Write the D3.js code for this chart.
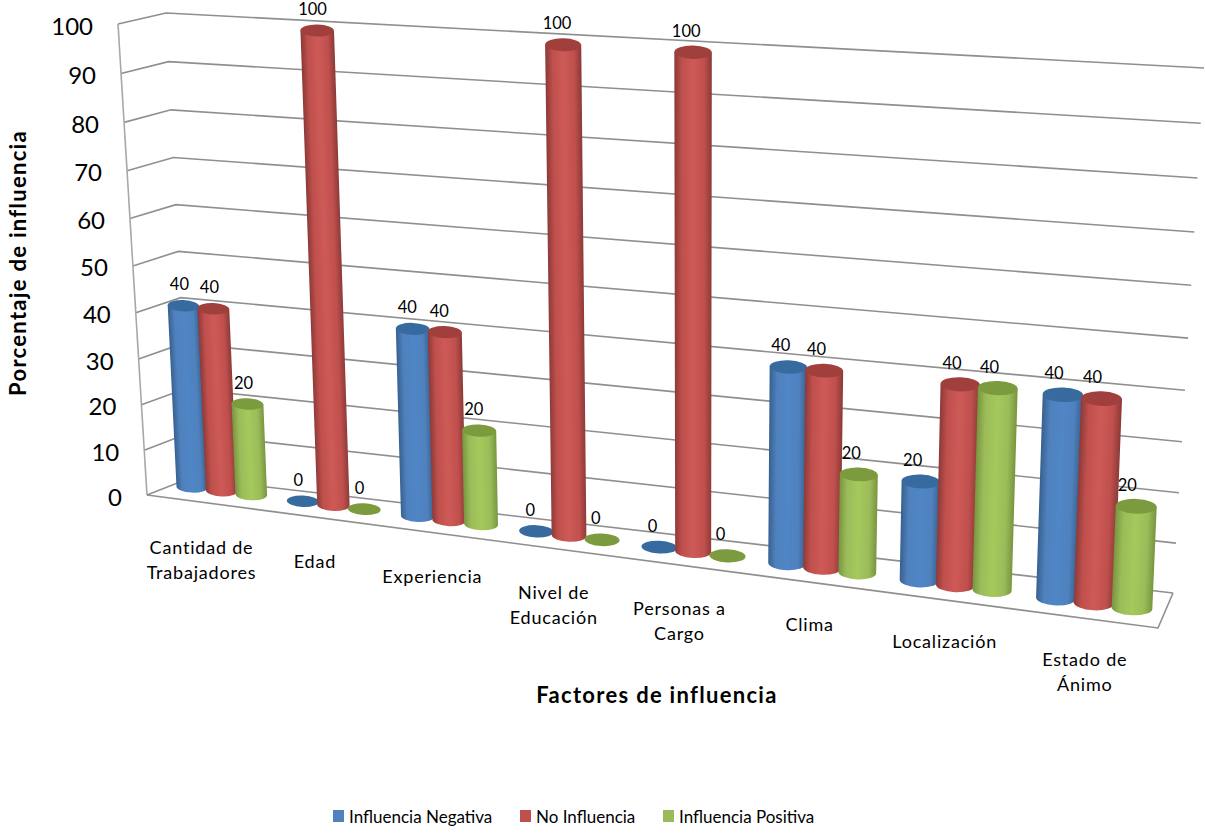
<!DOCTYPE html>
<html lang="es">
<head>
<meta charset="utf-8">
<title>Factores de influencia</title>
<script src="https://cdn.jsdelivr.net/npm/d3@7"></script>
<style>
  html, body { margin: 0; background: #fff; }
  svg { display: block; font-family: Lato, "Open Sans", sans-serif; fill: #000; }
</style>
</head>
<body>
<svg id="chart" width="1205" height="833"></svg>
<script>
const categories = [
  ['Cantidad de', 'Trabajadores'], ['Edad'], ['Experiencia'], ['Nivel de', 'Educación'],
  ['Personas a', 'Cargo'], ['Clima'], ['Localización'], ['Estado de', 'Ánimo'],
];
const seriesNames = ['Influencia Negativa', 'No Influencia', 'Influencia Positiva'];
const negativa = [40, 0, 40, 0, 0, 40, 20, 40];
const noInfluencia = [40, 100, 40, 100, 100, 40, 40, 40];
const positiva = [20, 0, 20, 0, 0, 20, 40, 20];
const yTicks = [0, 10, 20, 30, 40, 50, 60, 70, 80, 90, 100];

// body stops (edge, light, edge) plus the darker cap colour per series
const palette = [
  { swatch: '#4f81bd', edge: '#37608f', mid: '#4f86c6', cap: '#376b9f' },
  { swatch: '#c0504d', edge: '#8c3a38', mid: '#cd5a57', cap: '#a13f3d' },
  { swatch: '#9bbb59', edge: '#78953f', mid: '#a5c95c', cap: '#7c9a3e' },
];

// Solves the projective map taking the unit square to a quad [p00, p10, p11, p01]
function quadMap([p0, p1, p2, p3]) {
  const dx1 = p1[0] - p2[0], dx2 = p3[0] - p2[0], sx = p0[0] - p1[0] + p2[0] - p3[0];
  const dy1 = p1[1] - p2[1], dy2 = p3[1] - p2[1], sy = p0[1] - p1[1] + p2[1] - p3[1];
  const det = dx1 * dy2 - dx2 * dy1;
  const g = (sx * dy2 - dx2 * sy) / det, h = (dx1 * sy - sx * dy1) / det;
  const a = p1[0] - p0[0] + g * p1[0], b = p3[0] - p0[0] + h * p3[0];
  const d = p1[1] - p0[1] + g * p1[1], e = p3[1] - p0[1] + h * p3[1];
  return (u, v) => {
    const w = g * u + h * v + 1;
    return [(a * u + b * v + p0[0]) / w, (d * u + e * v + p0[1]) / w];
  };
}

// Chart box planes: back wall, front face and the plane through the cylinder axes
const backWall = quadMap([[190, 478], [1173, 593], [1204, 68], [166, 13]]);
const frontFace = quadMap([[147, 495], [1158, 628], [1190, 88], [118, 24]]);
const barPlane = quadMap([[192, 487], [1132, 608], [1154, 79], [170, 22]]);

const y = d3.scaleLinear().domain([0, 100]).range([0, 1]);
const xCat = d3.scaleBand().domain(d3.range(categories.length)).range([0, 1000]).paddingInner(0);
const xSeries = d3.scaleBand().domain(d3.range(3)).range([12, xCat.bandwidth() - 12]);
const xPos = (c, s) => xCat(c) + xSeries(s) + xSeries.bandwidth() / 2;
const u = d3.scaleLinear().domain([xPos(0, 0), xPos(7, 2)]).range([0, 1]);
const at = (pos, value) => barPlane(u(pos), y(value));

const svg = d3.select('#chart');
const defs = svg.append('defs');
const line = d3.line();

// ── Walls ──
const grid = svg.append('g').attr('fill', 'none').attr('stroke', '#8f8f8f').attr('stroke-width', 1.6);

grid.selectAll('path.grid')
  .data(yTicks)
  .join('path')
  .attr('class', 'grid')
  .attr('d', t => line([frontFace(0, y(t)), backWall(0, y(t)), backWall(1, y(t))]));

grid.append('path').attr('stroke', '#a8a8a8')
  .attr('d', line([frontFace(0, y(100)), frontFace(0, y(0))]));
grid.append('path')
  .attr('d', line([frontFace(0, y(0)), frontFace(1, y(0)), backWall(1, y(0))]));

// ── Cylinders ──
const bars = seriesNames.flatMap((name, s) =>
  [negativa, noInfluencia, positiva][s].map((value, c) => ({ c, s, value }))
);

function capParams(pos, value) {
  const half = xSeries.bandwidth() / 2;
  const l = at(pos - half, value), r = at(pos + half, value);
  return {
    center: at(pos, value),
    rx: Math.hypot(r[0] - l[0], r[1] - l[1]) / 2 * 1.05,
    // caps sit nearly level, only part of the floor's slope shows on them
    angle: Math.atan2(r[1] - l[1], r[0] - l[0]) * 180 / Math.PI * 0.35,
  };
}

const labelDx = d3.scaleLinear().domain([0, 7]).range([-4, -9]);
const barLayer = svg.append('g');
bars.sort((a, b) => a.c - b.c || a.s - b.s).forEach((d, i) => {
  const pos = xPos(d.c, d.s), colors = palette[d.s];
  const base = capParams(pos, 0), top = capParams(pos, d.value);
  const g = barLayer.append('g');

  if (d.value > 0) {
    const rad = a => a * Math.PI / 180;
    const ry = p => p.rx * 0.36;
    const edge = (p, sign) => [
      p.center[0] + sign * p.rx * Math.cos(rad(p.angle)),
      p.center[1] + sign * p.rx * Math.sin(rad(p.angle)),
    ];
    const [bl, br, tl, tr] = [edge(base, -1), edge(base, 1), edge(top, -1), edge(top, 1)];

    // shade across the leaning axis rather than across the bounding box
    const ax = top.center[0] - base.center[0], ay = top.center[1] - base.center[1];
    const len = Math.hypot(ax, ay);
    const nx = -ay / len, ny = ax / len;
    const mid = [(top.center[0] + base.center[0]) / 2, (top.center[1] + base.center[1]) / 2];
    const r = (top.rx + base.rx) / 2;
    const sign = nx >= 0 ? 1 : -1;
    const grad = defs.append('linearGradient')
      .attr('id', `bar-${i}`)
      .attr('gradientUnits', 'userSpaceOnUse')
      .attr('x1', mid[0] - sign * nx * r).attr('y1', mid[1] - sign * ny * r)
      .attr('x2', mid[0] + sign * nx * r).attr('y2', mid[1] + sign * ny * r);
    [[0, colors.edge], [0.2, colors.swatch], [0.5, colors.mid], [0.8, colors.swatch], [1, colors.edge]]
      .forEach(([o, col]) => grad.append('stop').attr('offset', o).attr('stop-color', col));

    g.append('path')
      .attr('fill', `url(#bar-${i})`)
      .attr('d', `M${tl}L${bl}A${base.rx},${ry(base)} ${base.angle} 0 0 ${br}L${tr}Z`);
  }

  g.append('ellipse')
    .attr('rx', top.rx).attr('ry', top.rx * 0.36)
    .attr('fill', colors.cap)
    .attr('transform', `translate(${top.center}) rotate(${top.angle})`);

  g.append('text')
    .attr('x', top.center[0] + labelDx(d.c)).attr('y', top.center[1] - 21.5)
    .attr('text-anchor', 'middle').attr('dominant-baseline', 'central')
    .attr('font-size', 16.5)
    .text(d.value);
});

// ── Value axis ──
svg.append('g').selectAll('text')
  .data(yTicks)
  .join('text')
  .attr('x', t => frontFace(0, y(t))[0] - 25)
  .attr('y', t => frontFace(0, y(t))[1] + 1)
  .attr('text-anchor', 'end').attr('dominant-baseline', 'central')
  .attr('font-size', 24)
  .text(t => t);

// ── Category labels ──
const labelShift = d3.scaleLinear().domain([0, 7]).range([-20, -9]);
svg.append('g').selectAll('text')
  .data(categories)
  .join('text')
  .attr('text-anchor', 'middle')
  .attr('font-size', 18)
  .attr('letter-spacing', 0.8)
  .each(function (lines, c) {
    const [px, py] = at(xPos(c, 1), 0);
    d3.select(this).selectAll('tspan')
      .data(lines)
      .join('tspan')
      .attr('x', px + labelShift(c))
      .attr('y', (l, i) => py + 63 + i * 25)
      .text(l => l);
  });

// ── Titles ──
svg.append('text')
  .attr('transform', 'translate(17,263) rotate(-90)')
  .attr('text-anchor', 'middle').attr('dominant-baseline', 'central')
  .attr('font-size', 22).attr('font-weight', 700)
  .attr('letter-spacing', 1.3)
  .text('Porcentaje de influencia');
svg.append('text')
  .attr('x', 657).attr('y', 694)
  .attr('text-anchor', 'middle').attr('dominant-baseline', 'central')
  .attr('font-size', 22).attr('font-weight', 700)
  .attr('letter-spacing', 1.3)
  .text('Factores de influencia');

// ── Legend ──
const legendX = d3.scaleOrdinal().domain(seriesNames).range([333, 520, 663]);
const legend = svg.append('g').selectAll('g')
  .data(seriesNames)
  .join('g')
  .attr('transform', n => `translate(${legendX(n)},810)`);
legend.append('rect')
  .attr('width', 11).attr('height', 12)
  .attr('fill', (n, i) => palette[i].swatch);
legend.append('text')
  .attr('x', 16).attr('y', 6)
  .attr('dominant-baseline', 'central')
  .attr('font-size', 17)
  .text(n => n);
</script>
</body>
</html>
